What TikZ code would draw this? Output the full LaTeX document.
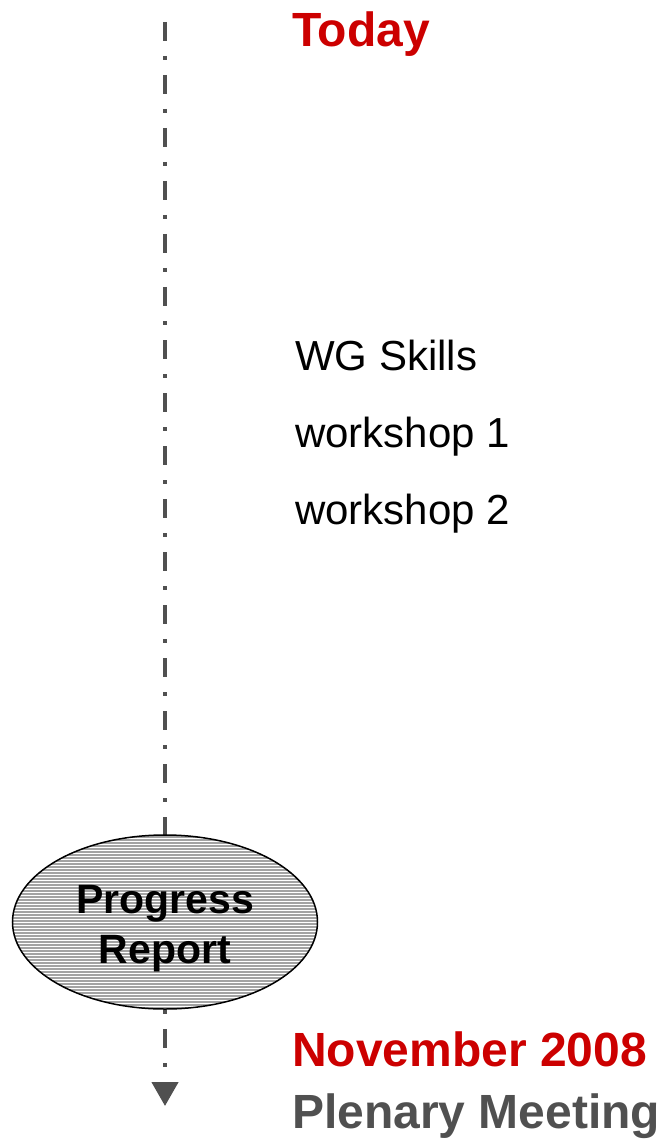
\documentclass[tikz,border=0pt]{standalone}
\usepackage{fontspec}
\setmainfont{Liberation Sans}
\usetikzlibrary{patterns,arrows.meta,shapes.geometric}

\definecolor{darkred}{HTML}{CC0000}
\definecolor{darkgrey}{HTML}{505050}

\begin{document}
\begin{tikzpicture}[x=1pt,y=-1pt]
\tikzstyle{timeline}=[line width=4.5pt,darkgrey,dash pattern=on 19pt off 15pt on 4pt off 15pt,-{Triangle[width=26pt,length=24pt]}]
\tikzstyle{event}=[anchor=base west,inner sep=0pt,font=\fontsize{42}{50}\selectfont]
\tikzstyle{date}=[anchor=base west,inner sep=0pt,font=\fontsize{48}{56}\selectfont\bfseries]

\useasboundingbox (0,0) rectangle (661,1139);

\coordinate (top) at (165,22);
\coordinate (bottom) at (165,1106);
\draw[timeline] (top) -- (bottom);

\node[ellipse,draw=black,line width=1.5pt,minimum width=305pt,minimum height=174pt,inner sep=0pt,
  preaction={fill=gray!72},pattern=horizontal lines,pattern color=white] (report) at (165,922) {};
\node[align=center,inner sep=0pt,yshift=-7pt,font=\fontsize{41}{50}\selectfont\bfseries] (reporttext) at (report) {Progress\\Report};

\node[date,text=darkred] (today) at (292,47) {Today};
\node[event] (skills) at (295,370) {WG Skills};
\node[event] (ws1) at (295,447) {workshop 1};
\node[event] (ws2) at (295,524) {workshop 2};
\node[date,text=darkred] (nov) at (292,1066) {November 2008};
\node[date,text=darkgrey] (plenary) at (292,1128) {Plenary Meeting};
\end{tikzpicture}
\end{document}
